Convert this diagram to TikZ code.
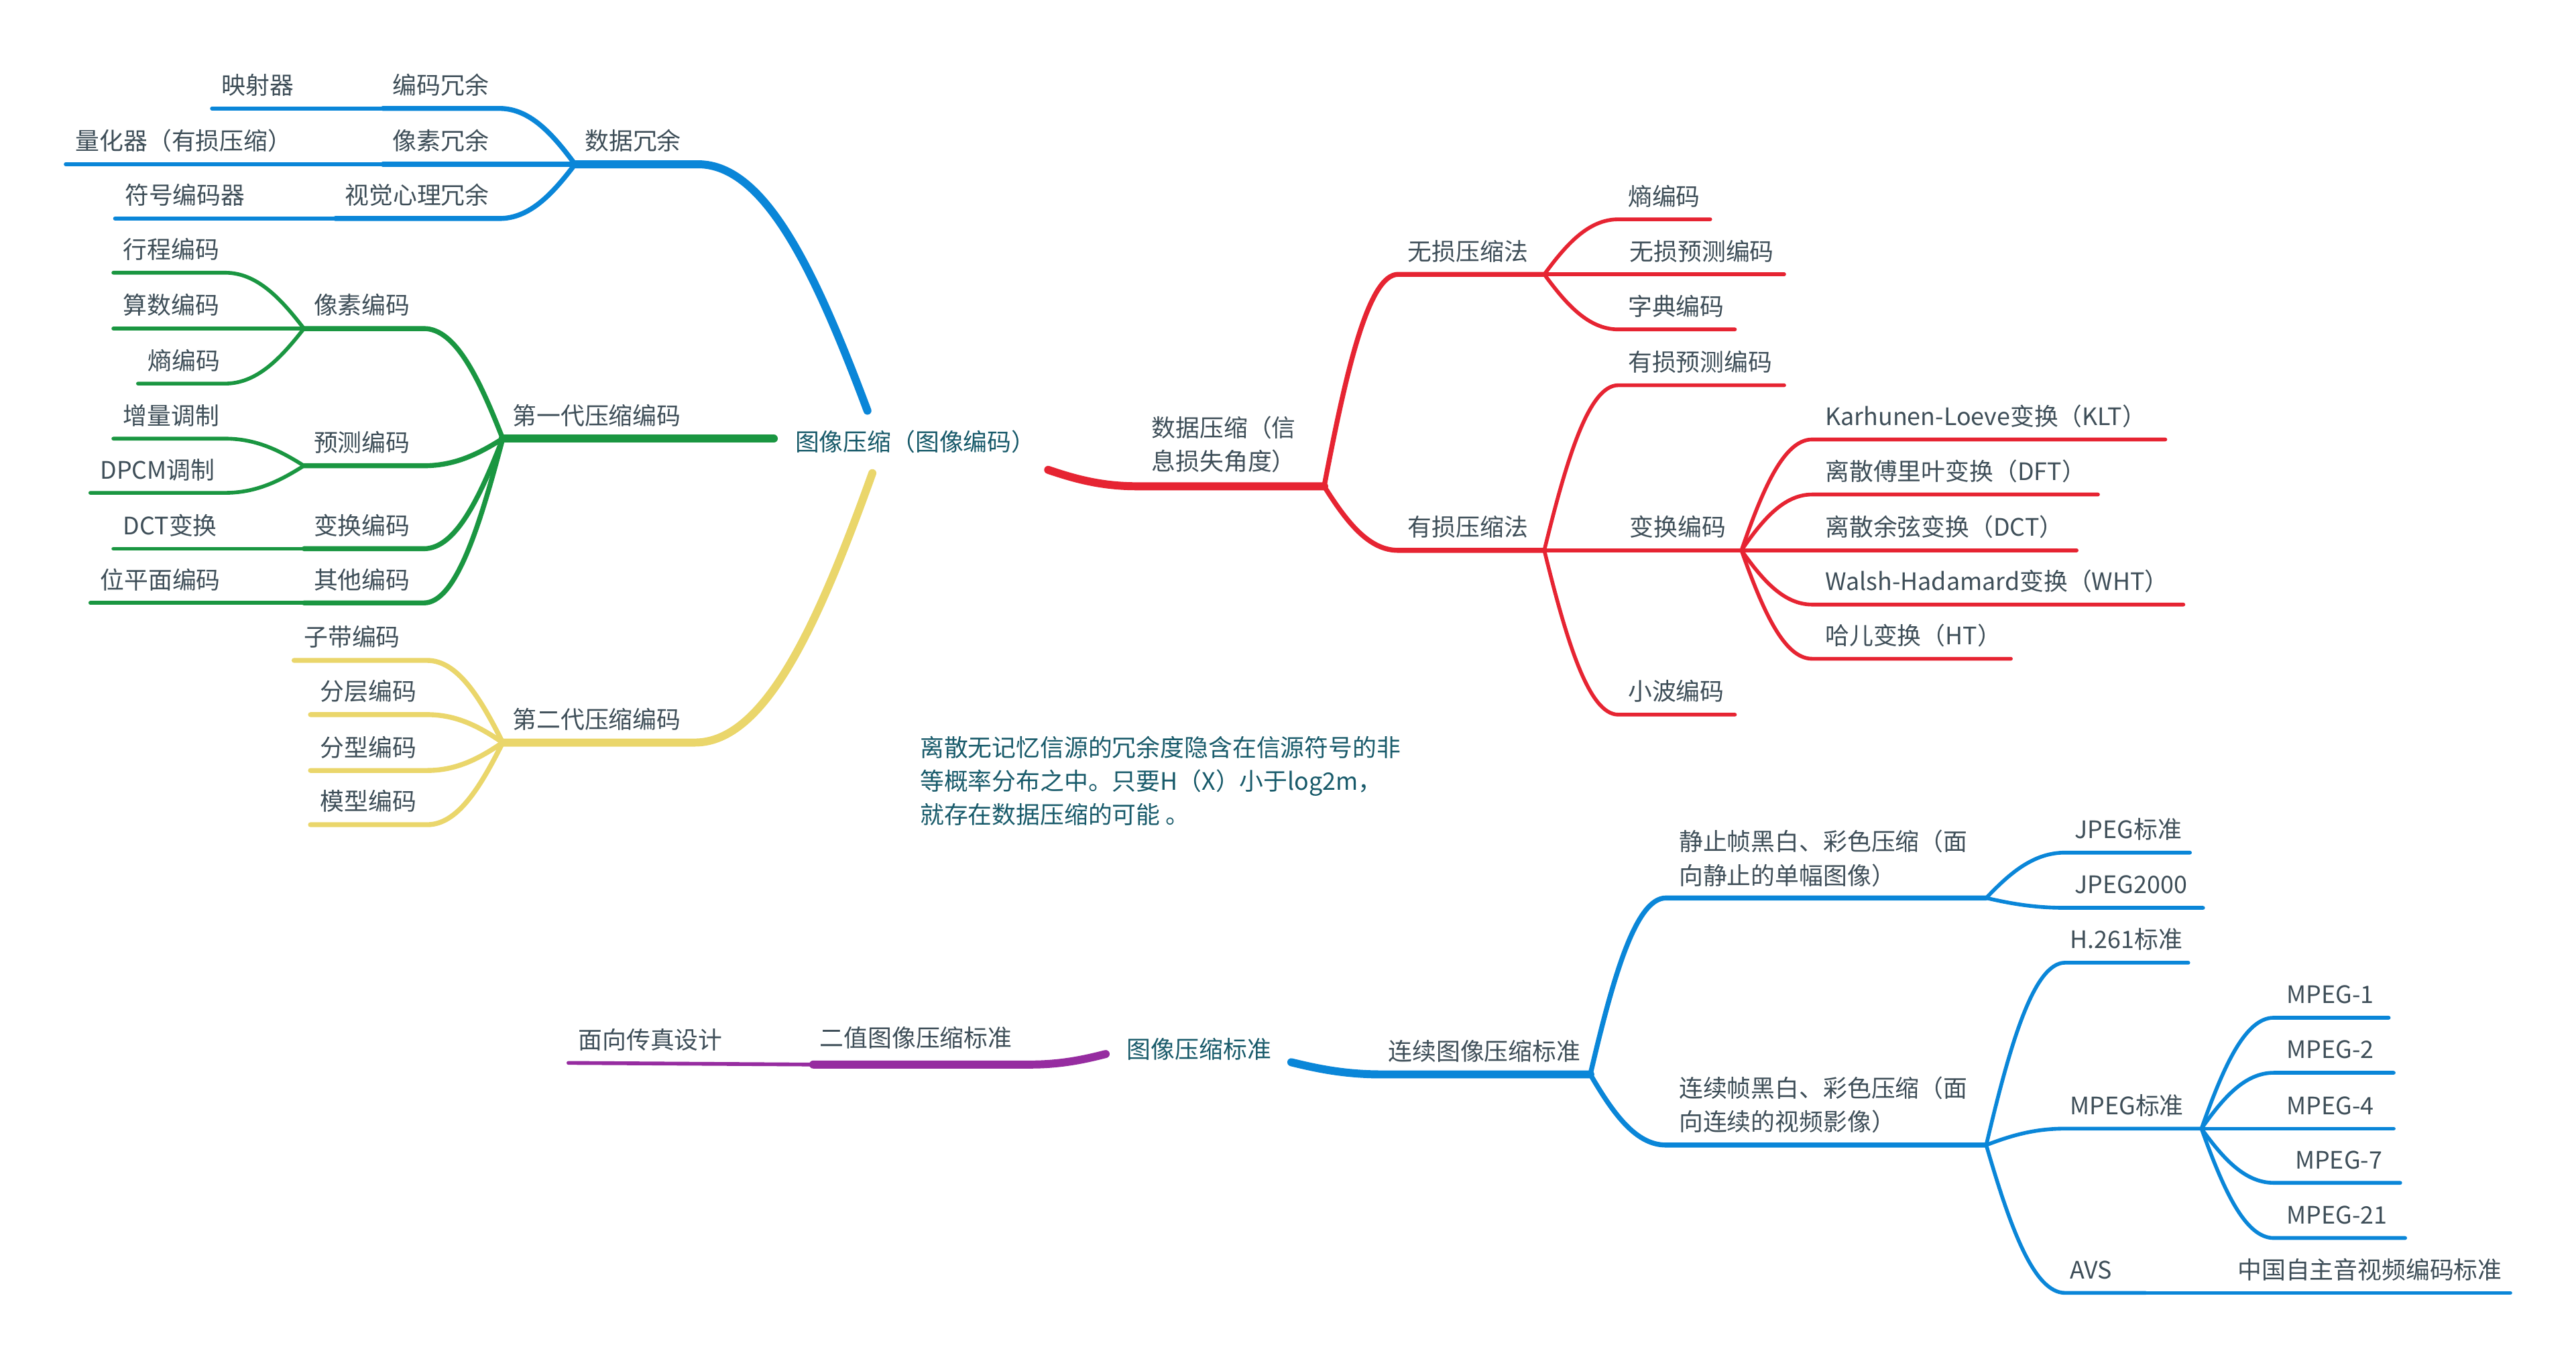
\documentclass[tikz,border=0pt]{standalone}
\usepackage{fontspec}
\setmainfont{Noto Sans CJK SC}
\usepackage{tikz}
\usetikzlibrary{calc}

\definecolor{mmblue}{RGB}{10,134,216}
\definecolor{mmgreen}{RGB}{26,150,65}
\definecolor{mmred}{RGB}{230,36,50}
\definecolor{mmyellow}{RGB}{234,214,107}
\definecolor{mmpurple}{RGB}{150,44,160}
\definecolor{txtgray}{RGB}{62,78,88}
\definecolor{txtteal}{RGB}{24,90,106}

\tikzset{
	lbl/.style={anchor=base west, inner sep=0pt, xshift=4pt, yshift=6pt, text=txtgray, font=\fontsize{10.2}{14.3}\selectfont},
	note/.style={lbl, text=txtteal, align=left},
	main/.style={line width=3.4pt, line cap=round, line join=round},
	mid/.style={line width=2.1pt, line cap=round, line join=round},
	leaf/.style={line width=1.6pt, line cap=round, line join=round},
	branch/.style={to path={let \p1=(\tikztostart), \p2=(\tikztotarget) in
		.. controls ({\x1+0.3*(\x2-\x1)},{\y1+0.55*(\y2-\y1)}) and ({\x2-0.4*(\x2-\x1)},{\y2}) .. (\tikztotarget)}}
}

\begin{document}
\begin{tikzpicture}[x=0.0245cm, y=-0.0245cm]
	\useasboundingbox (0,0) rectangle (1568,826);
	
	% root
	\node[lbl, text=txtteal] (root) at (478,283) {图像压缩（图像编码）};
	\coordinate (root-a) at (528,250);
	\coordinate (root-b) at (471,267);
	\coordinate (root-c) at (531,288);
	\coordinate (root-d) at (638,286);
	
	% data redundancy
	\coordinate (dr-l) at (350,100); \coordinate (dr-r) at (425,100);
	\coordinate (bm-l) at (233,66);  \coordinate (bm-r) at (304,66);
	\coordinate (ys-l) at (129,66);
	\coordinate (xr-l) at (233,100);
	\coordinate (lh-l) at (40,100);
	\coordinate (sj-l) at (204,133); \coordinate (sj-r) at (304,133);
	\coordinate (fh-l) at (70,133);
	
	\node[lbl] (dr) at (dr-l) {数据冗余};
	\node[lbl] (bm) at (bm-l) {编码冗余};
	\node[lbl] (ys) at (ys-l) {映射器};
	\node[lbl] (xr) at (xr-l) {像素冗余};
	\node[lbl] (lh) at (lh-l) {量化器（有损压缩）};
	\node[lbl] (sj) at (sj-l) {视觉心理冗余};
	\node[lbl] (fh) at (fh-l) {符号编码器};
	
	\draw[mmblue, main] (root-a) to[branch] (dr-r) -- (dr-l);
	\draw[mmblue, mid] (dr-l) to[branch] (bm-r) -- (bm-l);
	\draw[mmblue, leaf] (bm-l) -- (ys-l);
	\draw[mmblue, mid] (dr-l) -- (xr-l);
	\draw[mmblue, leaf] (xr-l) -- (lh-l);
	\draw[mmblue, mid] (dr-l) to[branch] (sj-r) -- (sj-l);
	\draw[mmblue, leaf] (sj-l) -- (fh-l);
	
	% first generation
	\coordinate (g1-l) at (306,267);
	\coordinate (px-l) at (185,200);   \coordinate (px-r) at (258,200);
	\coordinate (xc-l) at (69,166);    \coordinate (xc-r) at (137,166);
	\coordinate (ss-l) at (69,200);
	\coordinate (sb-l) at (84,233.5);  \coordinate (sb-r) at (137,233.5);
	\coordinate (yc-l) at (185,283.5); \coordinate (yc-r) at (258,283.5);
	\coordinate (zl-l) at (69,267);    \coordinate (zl-r) at (137,267);
	\coordinate (dp-l) at (55,300);    \coordinate (dp-r) at (137,300);
	\coordinate (bh-l) at (185,334);   \coordinate (bh-r) at (258,334);
	\coordinate (dct-l) at (69,334);
	\coordinate (qt-l) at (185,367);   \coordinate (qt-r) at (258,367);
	\coordinate (wp-l) at (55,367);
	
	\node[lbl] (g1) at (g1-l) {第一代压缩编码};
	\node[lbl] (px) at (px-l) {像素编码};
	\node[lbl] (xc) at (xc-l) {行程编码};
	\node[lbl] (ss) at (ss-l) {算数编码};
	\node[lbl] (sb) at (sb-l) {熵编码};
	\node[lbl] (yc) at (yc-l) {预测编码};
	\node[lbl] (zl) at (zl-l) {增量调制};
	\node[lbl] (dp) at (dp-l) {DPCM调制};
	\node[lbl] (bh) at (bh-l) {变换编码};
	\node[lbl] (dct) at (dct-l) {DCT变换};
	\node[lbl] (qt) at (qt-l) {其他编码};
	\node[lbl] (wp) at (wp-l) {位平面编码};
	
	\draw[mmgreen, main] (root-b) -- (g1-l);
	\draw[mmgreen, mid] (g1-l) to[branch] (px-r) -- (px-l);
	\draw[mmgreen, leaf] (px-l) to[branch] (xc-r) -- (xc-l);
	\draw[mmgreen, leaf] (px-l) -- (ss-l);
	\draw[mmgreen, leaf] (px-l) to[branch] (sb-r) -- (sb-l);
	\draw[mmgreen, mid] (g1-l) to[branch] (yc-r) -- (yc-l);
	\draw[mmgreen, leaf] (yc-l) to[branch] (zl-r) -- (zl-l);
	\draw[mmgreen, leaf] (yc-l) to[branch] (dp-r) -- (dp-l);
	\draw[mmgreen, mid] (g1-l) to[branch] (bh-r) -- (bh-l);
	\draw[mmgreen, leaf] (bh-l) -- (dct-l);
	\draw[mmgreen, mid] (g1-l) to[branch] (qt-r) -- (qt-l);
	\draw[mmgreen, leaf] (qt-l) -- (wp-l);
	
	% second generation
	\coordinate (g2-l) at (306,452); \coordinate (g2-r) at (423,452);
	\coordinate (zd-l) at (179,402); \coordinate (zd-r) at (260,402);
	\coordinate (fc-l) at (189,435); \coordinate (fc-r) at (260,435);
	\coordinate (fx-l) at (189,469); \coordinate (fx-r) at (260,469);
	\coordinate (mx-l) at (189,502); \coordinate (mx-r) at (260,502);
	
	\node[lbl] (g2) at (g2-l) {第二代压缩编码};
	\node[lbl] (zd) at (zd-l) {子带编码};
	\node[lbl] (fc) at (fc-l) {分层编码};
	\node[lbl] (fx) at (fx-l) {分型编码};
	\node[lbl] (mx) at (mx-l) {模型编码};
	
	\draw[mmyellow, main] (root-c) to[branch] (g2-r) -- (g2-l);
	\draw[mmyellow, mid] (g2-l) to[branch] (zd-r) -- (zd-l);
	\draw[mmyellow, mid] (g2-l) to[branch] (fc-r) -- (fc-l);
	\draw[mmyellow, mid] (g2-l) to[branch] (fx-r) -- (fx-l);
	\draw[mmyellow, mid] (g2-l) to[branch] (mx-r) -- (mx-l);
	
	% data compression (information loss)
	\coordinate (dc-l) at (692,296);    \coordinate (dc-r) at (806,296);
	\coordinate (ws-l) at (851,167);    \coordinate (ws-r) at (940,167);
	\coordinate (sh-l) at (985,133.5);  \coordinate (sh-r) at (1041,133.5);
	\coordinate (wy-r) at (1086,167);
	\coordinate (zd2-l) at (985,200.5); \coordinate (zd2-r) at (1056,200.5);
	\coordinate (ys2-l) at (851,335);   \coordinate (ys2-r) at (940,335);
	\coordinate (yy-l) at (985,234.5);  \coordinate (yy-r) at (1086,234.5);
	\coordinate (bh2-r) at (1060,335);
	\coordinate (klt-l) at (1103,267.5); \coordinate (klt-r) at (1318,267.5);
	\coordinate (dft-l) at (1103,301);   \coordinate (dft-r) at (1277,301);
	\coordinate (dct2-r) at (1264,335);
	\coordinate (wht-l) at (1103,368); \coordinate (wht-r) at (1329,368);
	\coordinate (ht-l) at (1103,401);    \coordinate (ht-r) at (1224,401);
	\coordinate (xb-l) at (985,435);    \coordinate (xb-r) at (1056,435);
	
	\node[lbl, align=left] (dc) at (695,295) {数据压缩（信\\息损失角度）};
	\node[lbl] (ws) at (ws-l) {无损压缩法};
	\node[lbl] (sh) at (sh-l) {熵编码};
	\node[lbl] (wy) at (986,167) {无损预测编码};
	\node[lbl] (zd2) at (zd2-l) {字典编码};
	\node[lbl] (ys2) at (ys2-l) {有损压缩法};
	\node[lbl] (yy) at (yy-l) {有损预测编码};
	\node[lbl] (bh2) at (986,335) {变换编码};
	\node[lbl] (klt) at (1105,267.5) {Karhunen-Loeve变换（KLT）};
	\node[lbl] (dft) at (1105,301) {离散傅里叶变换（DFT）};
	\node[lbl] (dct2) at (1105,335) {离散余弦变换（DCT）};
	\node[lbl] (wht) at (1105,368) {Walsh-Hadamard变换（WHT）};
	\node[lbl] (ht) at (1105,401) {哈儿变换（HT）};
	\node[lbl] (xb) at (xb-l) {小波编码};
	
	\draw[mmred, main] (root-d) to[branch] (dc-l) -- (dc-r);
	\draw[mmred, mid] (dc-r) to[branch] (ws-l) -- (ws-r);
	\draw[mmred, leaf] (ws-r) to[branch] (sh-l) -- (sh-r);
	\draw[mmred, leaf] (ws-r) -- (wy-r);
	\draw[mmred, leaf] (ws-r) to[branch] (zd2-l) -- (zd2-r);
	\draw[mmred, mid] (dc-r) to[branch] (ys2-l) -- (ys2-r);
	\draw[mmred, leaf] (ys2-r) to[branch] (yy-l) -- (yy-r);
	\draw[mmred, leaf] (ys2-r) -- (bh2-r);
	\draw[mmred, leaf] (bh2-r) to[branch] (klt-l) -- (klt-r);
	\draw[mmred, leaf] (bh2-r) to[branch] (dft-l) -- (dft-r);
	\draw[mmred, leaf] (bh2-r) -- (dct2-r);
	\draw[mmred, leaf] (bh2-r) to[branch] (wht-l) -- (wht-r);
	\draw[mmred, leaf] (bh2-r) to[branch] (ht-l) -- (ht-r);
	\draw[mmred, leaf] (ys2-r) to[branch] (xb-l) -- (xb-r);
	
	% note
	\node[note] (tip) at (554,510) {离散无记忆信源的冗余度隐含在信源符号的非\\等概率分布之中。只要H（X）小于log2m，\\就存在数据压缩的可能 。};
	
	% image compression standards
	\node[lbl, text=txtteal] (std) at (680,653) {图像压缩标准};
	\coordinate (std-a) at (673,641.6);
	\coordinate (std-b) at (786,646.6);
	
	\coordinate (ez-l) at (495,648);    \coordinate (ez-r) at (627,648);
	\coordinate (cz-l) at (346,647);
	\coordinate (lx-l) at (841,654);    \coordinate (lx-r) at (968,654);
	\coordinate (jz-l) at (1014,546.6); \coordinate (jz-r) at (1209,546.6);
	\coordinate (jpeg-l) at (1257,519);   \coordinate (jpeg-r) at (1333,519);
	\coordinate (j2k-l) at (1257,552.6);  \coordinate (j2k-r) at (1341,552.6);
	\coordinate (lz-l) at (1014,697);   \coordinate (lz-r) at (1209,697);
	\coordinate (h261-l) at (1257,586); \coordinate (h261-r) at (1332,586);
	\coordinate (mpeg-l) at (1257,687); \coordinate (mpeg-r) at (1340,687);
	\coordinate (m1-l) at (1384,619.5); \coordinate (m1-r) at (1454,619.5);
	\coordinate (m2-l) at (1384,653);   \coordinate (m2-r) at (1457,653);
	\coordinate (m4-r) at (1457,687);
	\coordinate (m7-l) at (1384,720);   \coordinate (m7-r) at (1461,720);
	\coordinate (m21-l) at (1384,753.6); \coordinate (m21-r) at (1464,753.6);
	\coordinate (avs-l) at (1257,787);  \coordinate (avs-r) at (1306,787);
	\coordinate (zg-r) at (1528,787);
	
	\node[lbl] (ez) at (493,646) {二值图像压缩标准};
	\node[lbl] (cz) at (cz-l) {面向传真设计};
	\node[lbl] (lx) at (839,654) {连续图像压缩标准};
	\node[lbl, align=left] (jz) at (1016,547) {静止帧黑白、彩色压缩（面\\向静止的单幅图像）};
	\node[lbl] (jpeg) at (jpeg-l) {JPEG标准};
	\node[lbl] (j2k) at (j2k-l) {JPEG2000};
	\node[lbl, align=left] (lz) at (1016,697) {连续帧黑白、彩色压缩（面\\向连续的视频影像）};
	\node[lbl] (h261) at (1254,586) {H.261标准};
	\node[lbl] (mpeg) at (1254,687) {MPEG标准};
	\node[lbl] (m1) at (1386,619.5) {MPEG-1};
	\node[lbl] (m2) at (1386,653) {MPEG-2};
	\node[lbl] (m4) at (1386,687) {MPEG-4};
	\node[lbl] (m7) at (1391,720) {MPEG-7};
	\node[lbl] (m21) at (1386,753.6) {MPEG-21};
	\node[lbl] (avs) at (1254,787) {AVS};
	\node[lbl] (zg) at (1356,787) {中国自主音视频编码标准};
	
	\draw[mmpurple, main] (std-a) to[branch] (ez-r) -- (ez-l);
	\draw[mmpurple, leaf] (ez-l) -- (cz-l);
	\draw[mmblue, main] (std-b) to[branch] (lx-l) -- (lx-r);
	\draw[mmblue, mid] (lx-r) to[branch] (jz-l) -- (jz-r);
	\draw[mmblue, leaf] (jz-r) to[branch] (jpeg-l) -- (jpeg-r);
	\draw[mmblue, leaf] (jz-r) to[branch] (j2k-l) -- (j2k-r);
	\draw[mmblue, mid] (lx-r) to[branch] (lz-l) -- (lz-r);
	\draw[mmblue, leaf] (lz-r) to[branch] (h261-l) -- (h261-r);
	\draw[mmblue, leaf] (lz-r) to[branch] (mpeg-l) -- (mpeg-r);
	\draw[mmblue, leaf] (mpeg-r) to[branch] (m1-l) -- (m1-r);
	\draw[mmblue, leaf] (mpeg-r) to[branch] (m2-l) -- (m2-r);
	\draw[mmblue, leaf] (mpeg-r) -- (m4-r);
	\draw[mmblue, leaf] (mpeg-r) to[branch] (m7-l) -- (m7-r);
	\draw[mmblue, leaf] (mpeg-r) to[branch] (m21-l) -- (m21-r);
	\draw[mmblue, leaf] (lz-r) to[branch] (avs-l) -- (avs-r);
	\draw[mmblue, leaf] (avs-r) -- (zg-r);
\end{tikzpicture}
\end{document}
